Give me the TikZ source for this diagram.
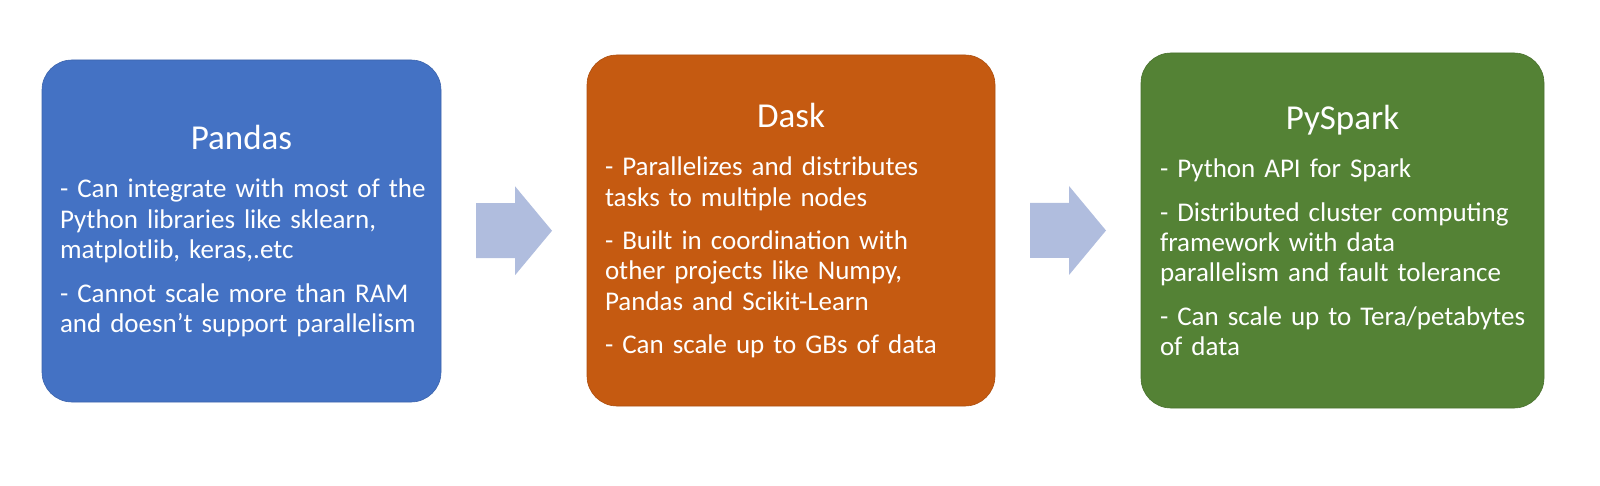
\documentclass[tikz,border=0pt]{standalone}
\usepackage{fontspec}
\setmainfont{Carlito}
\usetikzlibrary{calc}
\definecolor{boxBlue}{RGB}{68,114,196}
\definecolor{boxOrange}{RGB}{197,90,17}
\definecolor{boxGreen}{RGB}{84,130,53}
\definecolor{arrowBlue}{RGB}{176,189,222}
\newcommand{\boxtitle}[1]{{\centering\fontsize{35}{42}\selectfont #1\par}\vspace{18pt}%
  \rightskip=0pt plus 1fil minus 80pt\hyphenpenalty=10000}
\newcommand{\gap}{\par\vspace{13pt}}

\begin{document}
\begin{tikzpicture}[x=1pt, y=1pt,
    stackbox/.style={draw=#1!88!black, fill=#1, rounded corners=30pt, line width=0.6pt, inner sep=0pt},
    boxtext/.style={text=white, align=left, inner sep=0pt, font=\fontsize{27}{30.4}\selectfont,
      execute at begin node={\parindent=0pt}},
    flowarrow/.style={fill=arrowBlue}]
  \useasboundingbox (0,0) rectangle (1600,485);

  \node[stackbox=boxBlue, minimum width=399, minimum height=342] (pandas) at (241.5,254) {};
  \node[stackbox=boxOrange, minimum width=408, minimum height=351] (dask) at (791,254.5) {};
  \node[stackbox=boxGreen, minimum width=403, minimum height=355] (pyspark) at (1342.5,254.5) {};

  \node[boxtext, text width=363] (pandasText) at (pandas.center) {\boxtitle{Pandas}%
    - Can integrate with most of the\\ Python libraries like sklearn,\\ matplotlib, keras,.etc\gap
    - Cannot scale more than RAM\\ and doesn't support parallelism};
  \node[boxtext, text width=372] (daskText) at (dask.center) {\boxtitle{Dask}%
    - Parallelizes and distributes\\ tasks to multiple nodes\gap
    - Built in coordination with\\ other projects like Numpy,\\ Pandas and Scikit-Learn\gap
    - Can scale up to GBs of data};
  \node[boxtext, text width=365] (pysparkText) at (pyspark.center) {\boxtitle{PySpark}%
    - Python API for Spark\gap
    - Distributed cluster computing\\ framework with data\\ parallelism and fault tolerance\gap
    - Can scale up to Tera/petabytes\\ of data};

  \coordinate (arrowA) at ($(pandas.east)!0.5!(dask.west)$);
  \coordinate (arrowB) at ($(dask.east)!0.5!(pyspark.west)$);
  \foreach \a in {arrowA, arrowB}
    \fill[flowarrow, shift={(\a)}] (-38,27.5) -- (1,27.5) -- (1,44.5) -- (38,0)
      -- (1,-44.5) -- (1,-27.5) -- (-38,-27.5) -- cycle;
\end{tikzpicture}
\end{document}
